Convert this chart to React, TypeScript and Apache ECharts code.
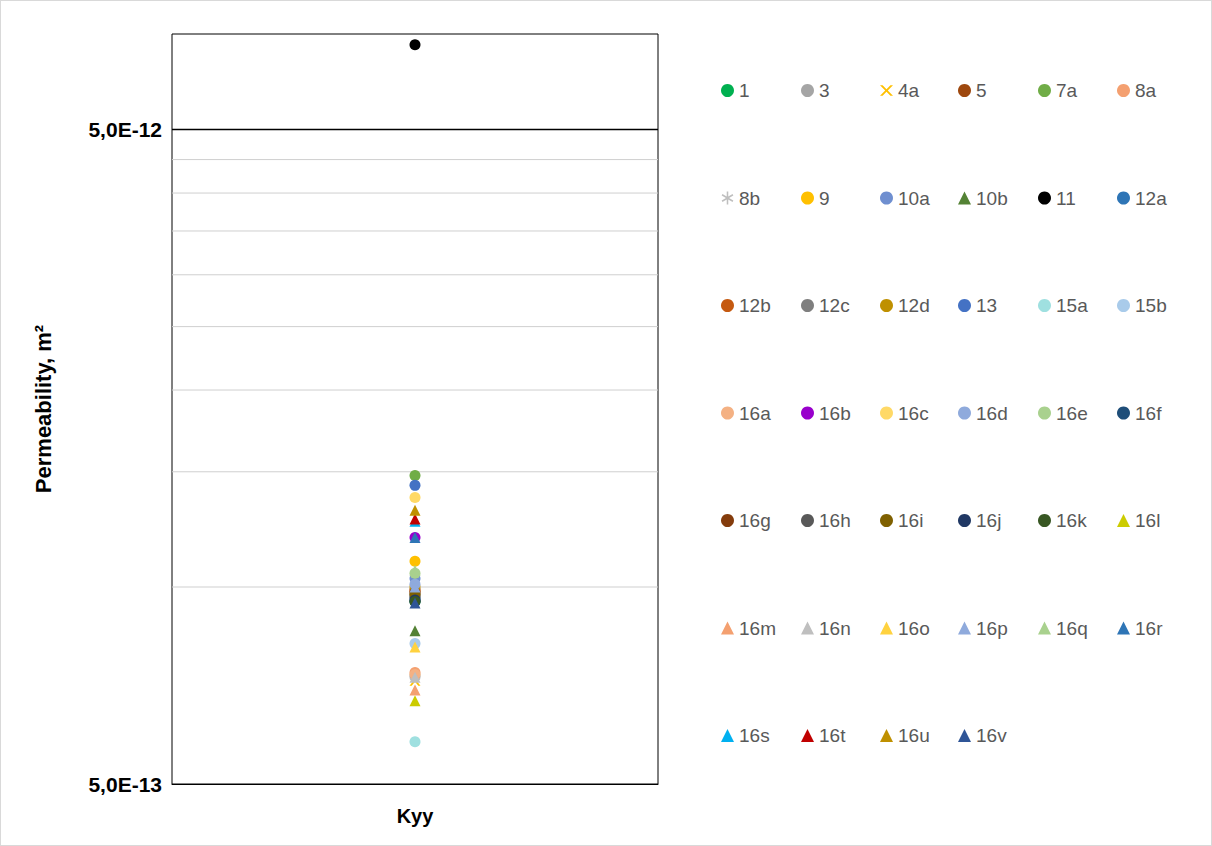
import React, { useEffect, useRef } from 'react';
import * as echarts from 'echarts';

const categories = ['Kyy'];

const sampleNames = [
  '1', '3', '4a', '5', '7a', '8a',
  '8b', '9', '10a', '10b', '11', '12a',
  '12b', '12c', '12d', '13', '15a', '15b',
  '16a', '16b', '16c', '16d', '16e', '16f',
  '16g', '16h', '16i', '16j', '16k', '16l',
  '16m', '16n', '16o', '16p', '16q', '16r',
  '16s', '16t', '16u', '16v',
];

// permeability values, m2
const kyyValues = [
  0.95e-12, 0.73e-12, 0.72e-12, 0.99e-12, 1.48e-12, 0.74e-12,
  0.73e-12, 1.095e-12, 1.03e-12, 0.857e-12, 6.74e-12, 0.96e-12,
  0.985e-12, 0.965e-12, 1.0e-12, 1.43e-12, 0.58e-12, 0.82e-12,
  0.735e-12, 1.19e-12, 1.37e-12, 1.01e-12, 1.05e-12, 0.95e-12,
  0.98e-12, 0.97e-12, 0.975e-12, 0.955e-12, 0.95e-12, 0.67e-12,
  0.696e-12, 0.728e-12, 0.81e-12, 1.0e-12, 1.06e-12, 1.19e-12,
  1.26e-12, 1.27e-12, 1.31e-12, 0.945e-12,
];

const gridValues = [1e-12, 1.5e-12, 2e-12, 2.5e-12, 3e-12, 3.5e-12, 4e-12, 4.5e-12, 5e-12];
const labelledValues = [5e-13, 5e-12];
const tickLabels = ['5,0E-13', '5,0E-12'];

const colors: Record<string, string> = {
  '1': '#00B050', '3': '#A5A5A5', '4a': '#FFC000', '5': '#9E480E', '7a': '#70AD47', '8a': '#F4A070',
  '8b': '#BFBFBF', '9': '#FFC000', '10a': '#6F8FD0', '10b': '#548235', '11': '#000000', '12a': '#2E75B6',
  '12b': '#C55A11', '12c': '#7F7F7F', '12d': '#BF9000', '13': '#4472C4', '15a': '#9FE0E0', '15b': '#A9CBEA',
  '16a': '#F4B183', '16b': '#9900CC', '16c': '#FFD966', '16d': '#8FAADC', '16e': '#A9D18E', '16f': '#1F4E79',
  '16g': '#843C0C', '16h': '#595959', '16i': '#7F6000', '16j': '#203864', '16k': '#385723', '16l': '#CCCC00',
  '16m': '#F4A070', '16n': '#BFBFBF', '16o': '#FFD23F', '16p': '#8FAADC', '16q': '#A9D18E', '16r': '#2E75B6',
  '16s': '#00B0F0', '16t': '#C00000', '16u': '#BF9000', '16v': '#2F5597',
};

const X_PATH = 'path://M0,0L2,0L5,3L8,0L10,0L6,4L10,8L8,8L5,5L2,8L0,8L4,4Z';
const STAR_PATH =
  'path://M4.4,0H5.6V3.9L8.9,2L9.5,3L6.2,5L9.5,7L8.9,8L5.6,6.1V10H4.4V6.1L1.1,8L0.5,7L3.8,5L0.5,3L1.1,2L4.4,3.9Z';

function symbolFor(name: string) {
  if (name === '4a') return X_PATH;
  if (name === '8b') return STAR_PATH;
  if (name === '10b' || /^16[l-v]$/.test(name)) return 'triangle';
  return 'circle';
}

export default function App() {
  const ref = useRef<HTMLDivElement>(null);

  useEffect(() => {
    if (!ref.current) return;
    const chart = echarts.init(ref.current, null, { renderer: 'svg' });

    // horizontal grid lines drawn on a hidden 0..1 x axis
    const gridSeries: any[] = gridValues.map(v => ({
      name: 'grid-' + v,
      type: 'line',
      xAxisIndex: 1,
      data: [[0, v], [1, v]],
      symbol: 'none',
      silent: true,
      z: 1,
      lineStyle: { color: v === 5e-12 ? '#000' : '#CFCFCF', width: v === 5e-12 ? 1.5 : 1 },
    }));

    const series: any[] = sampleNames.map((name, i) => ({
      name,
      type: 'scatter',
      data: [[categories[0], kyyValues[i]]],
      symbol: symbolFor(name),
      symbolSize: 11,
      z: 3,
      itemStyle: { color: colors[name], opacity: 1 },
    }));

    const cols = 6;
    const colX = [715, 795, 874, 952, 1032, 1111];
    const legends = colX.map((x, c) => ({
      orient: 'vertical',
      left: x,
      top: 75,
      itemGap: 88.5,
      itemWidth: 13,
      itemHeight: 13,
      data: sampleNames.filter((_, i) => i % cols === c),
      textStyle: { color: '#595959', fontSize: 19, fontFamily: 'Liberation Sans, Arial' },
      selectedMode: false,
    }));

    chart.setOption({
      animation: false,
      textStyle: { fontFamily: 'Liberation Sans, Arial' },
      legend: legends,
      grid: {
        left: 171,
        right: 553,
        top: 33,
        bottom: 61,
        show: true,
        borderColor: '#000',
        borderWidth: 1,
      },
      xAxis: [
        {
          type: 'category',
          data: categories,
          axisLine: { lineStyle: { color: '#000' } },
          axisTick: { show: false },
          axisLabel: { color: '#000', fontSize: 20, fontWeight: 'bold', margin: 22 },
        },
        { type: 'value', min: 0, max: 1, show: false },
      ],
      yAxis: {
        type: 'log',
        logBase: 10,
        min: 5e-13,
        max: 7.0e-12,
        axisLabel: {
          show: true,
          customValues: labelledValues,
          formatter: (v: number) => tickLabels[labelledValues.findIndex(l => Math.abs(l - v) / l < 1e-6)] ?? '',
          color: '#000',
          fontSize: 21,
          fontWeight: 'bold',
          margin: 10,
        },
        axisTick: { show: false },
        splitLine: { show: false },
        axisLine: { show: false },
        name: 'Permeability, m²',
        nameLocation: 'middle',
        nameGap: 118,
        nameTextStyle: { color: '#000', fontSize: 22, fontWeight: 'bold' },
      },
      series: [...gridSeries, ...series],
    });

    return () => chart.dispose();
  }, []);

  return (
    <div
      style={{
        position: 'absolute',
        left: 0,
        top: 0,
        width: 1210,
        height: 844,
        border: '1px solid #D9D9D9',
        background: '#fff',
      }}
    >
      <div ref={ref} style={{ width: 1210, height: 844 }} />
    </div>
  );
}
